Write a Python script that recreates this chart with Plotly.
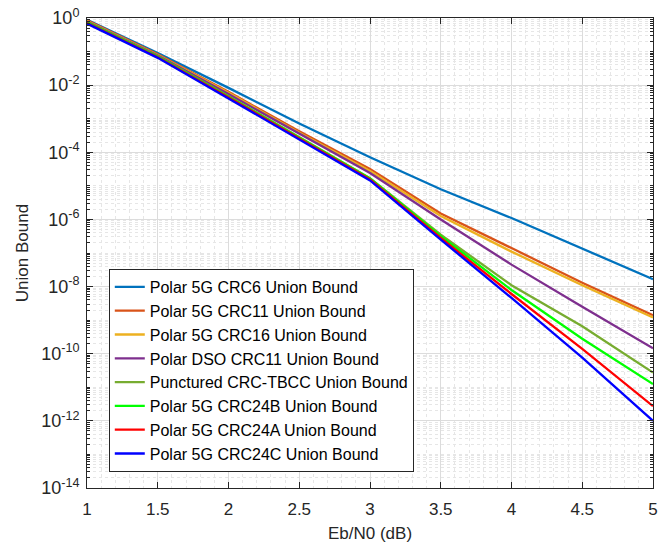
import plotly.graph_objects as go

ebn0 = [1.0, 1.5, 2.0, 2.5, 3.0, 3.5, 4.0, 4.5, 5.0]

crc6 = [0.89, 9.1e-2, 8.3e-3, 7.2e-4, 7.1e-5, 7.9e-6, 1.1e-6, 1.35e-7, 1.66e-8]
crc11 = [0.85, 8.3e-2, 6.3e-3, 4.2e-4, 3.2e-5, 1.5e-6, 1.4e-7, 1.3e-8, 1.4e-9]
crc16 = [0.81, 7.9e-2, 5.9e-3, 3.8e-4, 2.75e-5, 1.26e-6, 1.1e-7, 1.1e-8, 1.2e-9]
dso11 = [0.79, 7.6e-2, 5.4e-3, 3.5e-4, 2.4e-5, 1.0e-6, 4.5e-8, 2.5e-9, 1.45e-10]
tbcc = [0.76, 7.2e-2, 4.7e-3, 2.8e-4, 1.7e-5, 3.5e-7, 1.1e-8, 6.6e-10, 2.75e-11]
crc24b = [0.74, 7.1e-2, 4.5e-3, 2.75e-4, 1.65e-5, 3.2e-7, 7.9e-9, 2.8e-10, 1.25e-11]
crc24a = [0.71, 6.8e-2, 4.3e-3, 2.6e-4, 1.55e-5, 2.8e-7, 6.0e-9, 1.4e-10, 2.75e-12]
crc24c = [0.68, 6.5e-2, 4.0e-3, 2.45e-4, 1.45e-5, 2.5e-7, 4.6e-9, 7.6e-11, 1.0e-12]

names = [
    "Polar 5G CRC6 Union Bound",
    "Polar 5G CRC11 Union Bound",
    "Polar 5G CRC16 Union Bound",
    "Polar DSO CRC11 Union Bound",
    "Punctured CRC-TBCC Union Bound",
    "Polar 5G CRC24B Union Bound",
    "Polar 5G CRC24A Union Bound",
    "Polar 5G CRC24C Union Bound",
]
series = [crc6, crc11, crc16, dso11, tbcc, crc24b, crc24a, crc24c]
colors = ["#0072BD", "#D95319", "#EDB120", "#7E2F8E", "#77AC30",
          "#00FF00", "#FF0000", "#0000FF"]

x_ticks = [1, 1.5, 2, 2.5, 3, 3.5, 4, 4.5, 5]
x_ticklabels = ["1", "1.5", "2", "2.5", "3", "3.5", "4", "4.5", "5"]
y_exps = [0, -2, -4, -6, -8, -10, -12, -14]
y_ticklabels = ["10<sup>%d</sup>" % e for e in y_exps]

fig = go.Figure()
for name, ys, c in zip(names, series, colors):
    fig.add_trace(go.Scatter(x=ebn0, y=ys, mode="lines", name=name,
                             line=dict(color=c, width=2.3)))

# minor tick positions for log axis: every k*10^n not on a labelled decade
y_minor = []
for n in range(-14, 0):
    for k in range(1, 10):
        v = k * 10.0 ** n
        if not (k == 1 and n % 2 == 0):
            y_minor.append(v)
x_minor = [1 + 0.1 * i for i in range(41) if i % 5 != 0]

font_family = "Liberation Sans, Arial, sans-serif"
axcol = "#262626"

fig.update_layout(
    width=664, height=548,
    margin=dict(l=87, r=6, t=15, b=60),
    paper_bgcolor="white", plot_bgcolor="white",
    font=dict(family=font_family, size=16, color=axcol),
    showlegend=True,
    legend=dict(x=0.0385, y=0.466, xanchor="left", yanchor="top",
                bgcolor="white", bordercolor=axcol, borderwidth=1,
                font=dict(size=16, family=font_family, color="black"),
                itemwidth=30, tracegroupgap=0,
                entrywidth=285, entrywidthmode="pixels"),
    xaxis=dict(
        range=[1, 5], tickvals=x_ticks, ticktext=x_ticklabels,
        showline=True, linecolor=axcol, linewidth=1, mirror="ticks",
        ticks="inside", ticklen=6, tickcolor=axcol,
        showgrid=True, gridcolor="#DCDCDC", gridwidth=1,
        zeroline=False, ticklabelstandoff=6,
        title=dict(text="Eb/N0 (dB)", font=dict(size=17), standoff=8),
        minor=dict(tickvals=x_minor, showgrid=True, gridcolor="#E6E6E6",
                   griddash="dot", ticks=""),
        tickfont=dict(size=17),
    ),
    yaxis=dict(
        type="log", range=[-14, 0],
        tickvals=[10.0 ** e for e in y_exps], ticktext=y_ticklabels,
        showline=True, linecolor=axcol, linewidth=1, mirror="ticks",
        ticks="inside", ticklen=6, tickcolor=axcol,
        showgrid=True, gridcolor="#DCDCDC", gridwidth=1,
        zeroline=False, ticklabelstandoff=3,
        title=dict(text="Union Bound", font=dict(size=17), standoff=8),
        minor=dict(tickvals=y_minor, showgrid=True, gridcolor="#E6E6E6",
                   griddash="dot", ticks="inside", ticklen=3, tickcolor=axcol),
        tickfont=dict(size=18),
    ),
)

fig.write_html("out.html")
